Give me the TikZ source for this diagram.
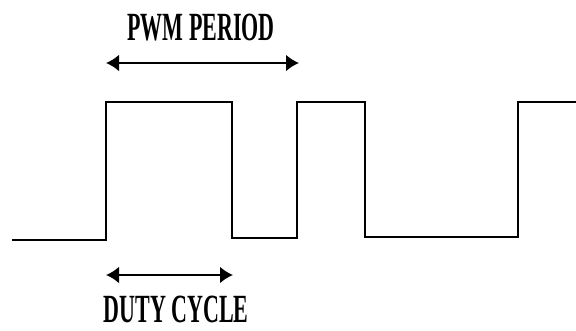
\documentclass[tikz,border=0pt]{standalone}
\usepackage{fontspec}
\setmainfont{Liberation Serif}
\usetikzlibrary{arrows.meta}
\begin{document}
\begin{tikzpicture}[x=1pt,y=-1pt,
  wave/.style={line width=2pt,line join=miter},
  dim/.style={line width=2.4pt,{Latex[length=13pt,width=17pt]}-{Latex[length=13pt,width=17pt]}},
  lbl/.style={font=\bfseries\fontsize{40}{40}\selectfont,inner sep=0pt,xscale=0.55}]
\useasboundingbox (0,0) rectangle (576,330);
% waveform
\coordinate (w0) at (12,240);
\coordinate (w1) at (106,240);
\coordinate (w2) at (106,102);
\coordinate (w3) at (232,102);
\coordinate (w4) at (232,238);
\coordinate (w5) at (297,238);
\coordinate (w6) at (297,102);
\coordinate (w7) at (365,102);
\coordinate (w8) at (365,237);
\coordinate (w9) at (518,237);
\coordinate (w10) at (518,102);
\coordinate (w11) at (576,102);
\draw[wave] (w0) -- (w1) -- (w2) -- (w3) -- (w4) -- (w5) -- (w6) -- (w7) -- (w8) -- (w9) -- (w10) -- (w11);
% PWM period
\coordinate (pa) at (106,63);
\coordinate (pb) at (299,63);
\draw[dim] (pa) -- (pb);
\node[lbl] (pwm) at (201,28) {PWM PERIOD};
% duty cycle
\coordinate (da) at (106,275);
\coordinate (db) at (233,275);
\draw[dim] (da) -- (db);
\node[lbl] (duty) at (176,309) {DUTY CYCLE};
\end{tikzpicture}
\end{document}
